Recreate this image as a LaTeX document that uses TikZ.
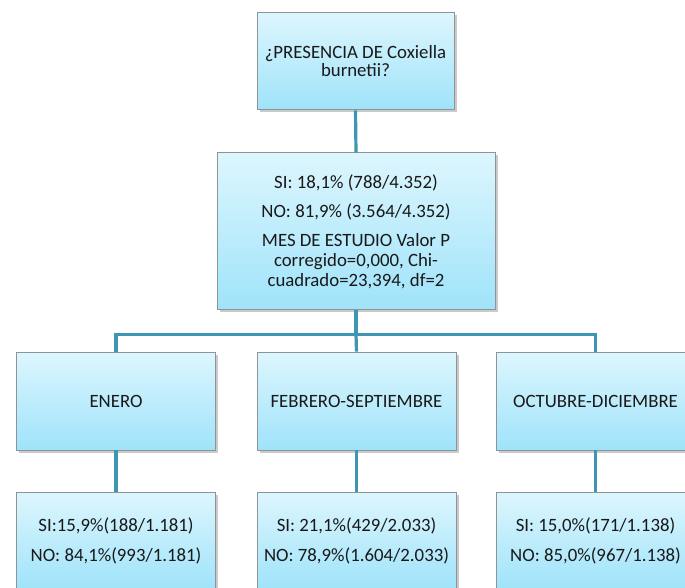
\documentclass[tikz,border=0pt]{standalone}
\usepackage{fontspec}
\setmainfont{Carlito}
\usepackage{xcolor}
\usepackage{tikz}
\usetikzlibrary{positioning, shadows}

\definecolor{boxtop}{HTML}{DDF6FE}
\definecolor{boxbot}{HTML}{9FE3FA}
\definecolor{boxedge}{HTML}{8E9496}
\definecolor{linkcol}{HTML}{3E97B2}

\begin{document}
\begin{tikzpicture}[x=1pt, y=1pt,
        cell/.style={rectangle, draw=boxedge, line width=0.8pt, top color=boxtop, bottom color=boxbot,
          align=center, font=\fontsize{18.8}{20}\selectfont, text=black!90, inner sep=2pt,
          drop shadow={shadow xshift=2.5pt, shadow yshift=-2.5pt, opacity=0.35, fill=black!60}},
        link/.style={draw=linkcol, line width=3.2pt}]

        \clip (0,0) rectangle (685,587);

        % root question
        \node[cell, minimum width=197, minimum height=97, font=\fontsize{18.8}{18}\selectfont] (root) at (355.5,525.6)
            {¿PRESENCIA DE Coxiella\\burnetii?};

        % overall result
        \node[cell, minimum width=278, minimum height=157] (total) at (356,355.6)
            {SI: 18,1\% (788/4.352)\\[9pt]
             NO: 81,9\% (3.564/4.352)\\[9pt]
             MES DE ESTUDIO Valor P\\corregido=0,000, Chi-\\cuadrado=23,394, df=2};

        % months
        \node[cell, minimum width=199, minimum height=98] (enero) at (116,186) {ENERO};
        \node[cell, minimum width=199, minimum height=98] (febrero) at (356.5,186) {FEBRERO-SEPTIEMBRE};
        \node[cell, minimum width=199, minimum height=98] (octubre) at (595.5,186) {OCTUBRE-DICIEMBRE};

        % results per month
        \node[cell, minimum width=199, minimum height=98] (renero) at (116,46)
            {SI:15,9\%(188/1.181)\\[10pt]NO: 84,1\%(993/1.181)};
        \node[cell, minimum width=199, minimum height=98] (rfebrero) at (356.5,46)
            {SI: 21,1\%(429/2.033)\\[10pt]NO: 78,9\%(1.604/2.033)};
        \node[cell, minimum width=199, minimum height=98] (roctubre) at (595.5,46)
            {SI: 15,0\%(171/1.138)\\[10pt]NO: 85,0\%(967/1.138)};

        % connectors
        \draw[link] (root.south) -- (total.north);
        \draw[link] (total.south) -- ++(0,-24) coordinate (fork);
        \draw[link] (fork) -| (enero.north);
        \draw[link] (fork) -| (octubre.north);
        \draw[link] (fork) -- (febrero.north);
        \draw[link] (enero.south) -- (renero.north);
        \draw[link] (febrero.south) -- (rfebrero.north);
        \draw[link] (octubre.south) -- (roctubre.north);
      \end{tikzpicture}
\end{document}
